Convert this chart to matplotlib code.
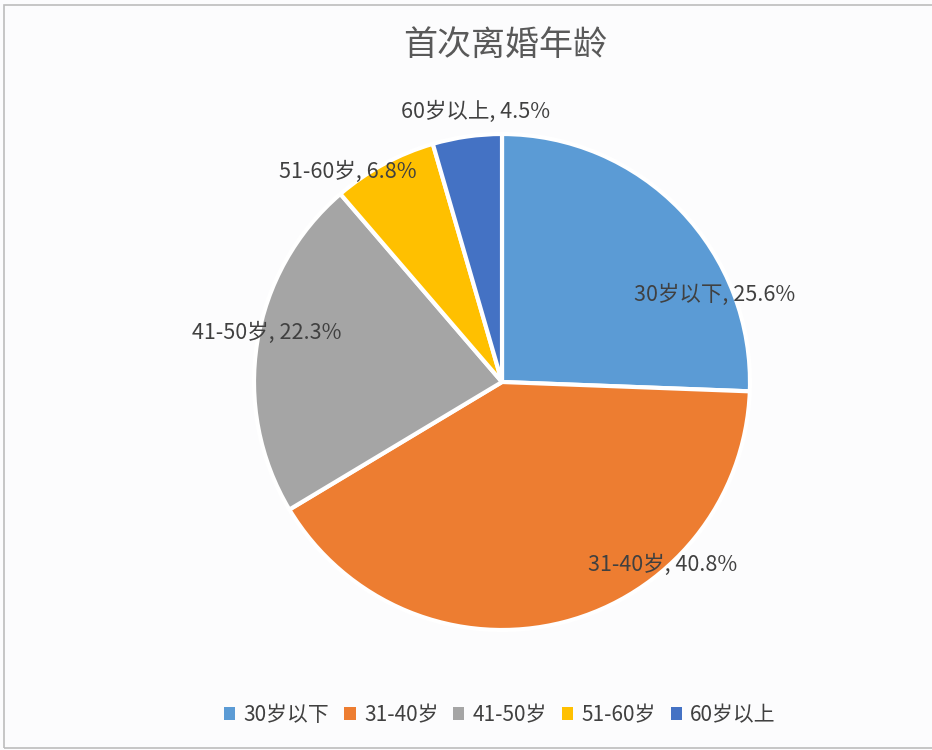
import matplotlib.pyplot as plt
from matplotlib.patches import Rectangle, Patch

plt.rcParams['font.family'] = ['Noto Sans CJK SC', 'DejaVu Sans']

# data
categories = ['30岁以下', '31-40岁', '41-50岁', '51-60岁', '60岁以上']
shares = [25.6, 40.8, 22.3, 6.8, 4.5]
colors = ['#5B9BD5', '#ED7D31', '#A5A5A5', '#FFC000', '#4472C4']
title = '首次离婚年龄'

# label positions in pixel coords (Excel best-fit placement)
label_pos = [(715, 295), (663, 565), (267, 333), (348, 172), (476, 112)]

W, H = 932, 750
fig = plt.figure(figsize=(W / 100, H / 100), dpi=100)
fig.patch.set_facecolor('#fcfcfd')
ax = fig.add_axes([0, 0, 1, 1])

# chart frame
ax.add_patch(Rectangle((4, 2), W + 10, H - 7, fill=False, edgecolor='#bdbdbd', linewidth=1.2))

cx, cy, r = 502, H - 382, 248
wedges, _ = ax.pie(shares, colors=colors, startangle=90, counterclock=False,
                   center=(cx, cy), radius=r, frame=True,
                   wedgeprops=dict(edgecolor='white', linewidth=3))
ax.set_xlim(0, W)
ax.set_ylim(0, H)
ax.set_aspect('equal')
ax.axis('off')

for cat, val, (px, py) in zip(categories, shares, label_pos):
    ax.text(px, H - py, f'{cat}, {val}%', ha='center', va='center',
            fontsize=15.5, color='#404040', fontweight='light')

ax.text(W / 2 + 39, H - 45, title, ha='center', va='center', fontsize=24.5,
        color='#595959', fontweight='light')

handles = [Patch(facecolor=c, edgecolor='none') for c in colors]
fig.legend(handles, categories, loc='center', bbox_to_anchor=(500 / W, 1 - 715 / H),
           ncol=5, frameon=False, prop=dict(size=15, weight='light'),
           handlelength=0.55, handleheight=0.55,
           handletextpad=0.4, columnspacing=0.7, labelcolor='#404040')

fig.savefig('out.png', dpi=100, facecolor=fig.get_facecolor())
